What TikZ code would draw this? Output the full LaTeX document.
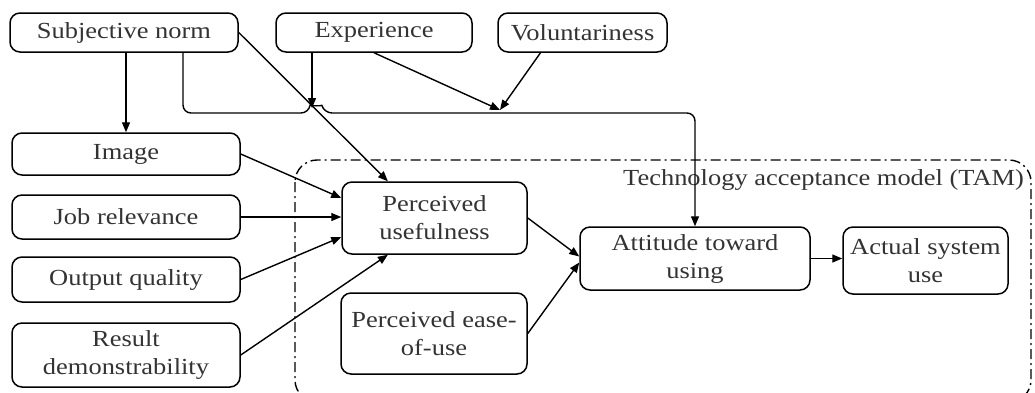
\documentclass[tikz,border=0pt]{standalone}
\usepackage{fontspec}
\setmainfont{Liberation Serif}[FakeStretch=1.15]
\usetikzlibrary{arrows.meta,calc}

\tikzset{
  box/.style={draw, line width=1.5pt, rounded corners=10pt, inner sep=0pt,
    align=center, text=black!80, font=\fontsize{23}{28}\selectfont},
  arr/.style={line width=1.4pt, -{Triangle[length=10pt,width=8pt]}},
  tam/.style={line width=1.4pt, rounded corners=22pt,
    dash pattern=on 10pt off 4pt on 2pt off 4pt},
}

\begin{document}
\begin{tikzpicture}[x=1pt,y=-1pt]
\useasboundingbox (0,0) rectangle (1035,392);

% model boundary
\draw[tam] (295,160) rectangle (1031,402);
\node[anchor=base west, inner sep=0pt, text=black!80,
  font=\fontsize{23}{28}\selectfont] (tamlabel) at (623,185)
  {Technology acceptance model (TAM)};

% top row
\node[box, minimum width=228pt, minimum height=39pt] (SN)  at (124,32.5) {Subjective norm};
\node[box, minimum width=196pt, minimum height=39pt] (Exp) at (374,32.5) {Experience};
\node[box, minimum width=169pt, minimum height=39pt] (Vol) at (582.5,32.5) {Voluntariness};

% left column
\node[box, minimum width=228pt, minimum height=42pt] (Img) at (126,154) {Image};
\node[box, minimum width=228pt, minimum height=44pt] (Job) at (126,217) {Job relevance};
\node[box, minimum width=228pt, minimum height=45pt] (OQ)  at (126,279.5) {Output quality};
\node[box, minimum width=228pt, minimum height=64pt] (RD)  at (126,355) {Result\\demonstrability};

% TAM core
\node[box, minimum width=185pt, minimum height=72pt] (PU)   at (434.5,218) {Perceived\\usefulness};
\node[box, minimum width=186pt, minimum height=81pt] (PEOU) at (434,333.5) {Perceived ease-\\of-use};
\node[box, minimum width=230pt, minimum height=63pt] (ATT)  at (695,258.5) {Attitude toward\\using};
\node[box, minimum width=165pt, minimum height=67pt] (ASU)  at (925.5,260.5) {Actual system\\use};

% moderation points
\coordinate (hop)  at (312,108);
\coordinate (mod2) at (500,110);

% subjective norm paths
\draw[arr] (SN.south -| Img.north) -- (Img.north);
\draw[arr] (SN.east) -- ($(PU.north west)!0.25!(PU.north east)$);
\draw[arr, rounded corners=8pt] (SN.south -| 183,0) -- (183,113) -- (309,113)
  .. controls (310,106) and (322,106) .. (324,113) -- (695,113) -- (ATT.north);

% moderators
\draw[arr] (Exp.south -| hop) -- (hop);
\draw[arr] (Exp.south) -- (mod2);
\draw[arr] ($(Vol.south)+(-42pt,0)$) -- (mod2);

% determinants of perceived usefulness
\draw[arr] (Img.east) -- ([yshift=20pt]PU.west);
\draw[arr] (Job.east) -- (Job.east -| PU.west);
\draw[arr] (OQ.east) -- ([yshift=-19pt]PU.west);
\draw[arr] (RD.east) -- ($(PU.south west)!0.25!(PU.south east)$);

% TAM links
\draw[arr] (PU.east) -- ([yshift=2pt]ATT.west);
\draw[arr] (PEOU.east) -- ([yshift=-4pt]ATT.west);
\draw[arr] (ATT.east) -- (ATT.east -| ASU.west);
\end{tikzpicture}
\end{document}
